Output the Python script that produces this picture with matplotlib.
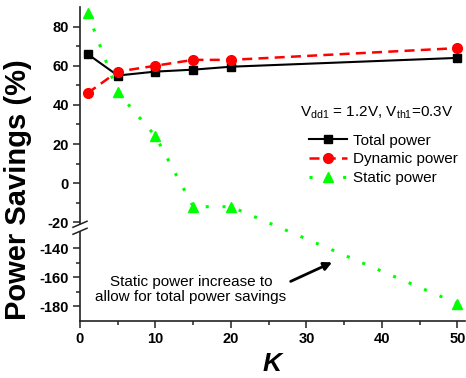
import numpy as np
import matplotlib
matplotlib.use("Agg")
from matplotlib import pyplot as plt
from matplotlib.lines import Line2D
from matplotlib.patches import Polygon

plt.rcParams['font.family'] = ['Liberation Sans', 'DejaVu Sans']
plt.rcParams['mathtext.fontset'] = 'custom'
plt.rcParams['mathtext.rm'] = 'Liberation Sans'
plt.rcParams['mathtext.it'] = 'Liberation Sans:italic'
plt.rcParams['mathtext.bf'] = 'Liberation Sans:bold'

# data
K = [1, 5, 10, 15, 20, 50]
total_power = [66, 55, 57, 58, 59.5, 64]
dynamic_power = [46, 57, 60, 63, 63, 69]
static_power = [87, 46.5, 24, -12, -12, -178]

y_ticks = [-180, -160, -140, -20, 0, 20, 40, 60, 80]
y_minor = [-170, -150, -10, 10, 30, 50, 70]

# broken y axis: upper part -22..90, lower part -190..-127
BOT, LO_HI, UP_LO, TOP = -190, -127, -22, 90
S_LO, S_UP, GAP = 1.45, 1.95, 3.0
L = (LO_HI - BOT) * S_LO


def fwd(y):
    y = np.asarray(y, dtype=float)
    lo = (y - BOT) * S_LO
    mid = L + (y - LO_HI) / (UP_LO - LO_HI) * GAP
    up = L + GAP + (y - UP_LO) * S_UP
    return np.where(y >= UP_LO, up, np.where(y <= LO_HI, lo, mid))


def inv(v):
    v = np.asarray(v, dtype=float)
    lo = v / S_LO + BOT
    mid = LO_HI + (v - L) / GAP * (UP_LO - LO_HI)
    up = (v - L - GAP) / S_UP + UP_LO
    return np.where(v >= L + GAP, up, np.where(v <= L, lo, mid))


fig = plt.figure(figsize=(4.66, 3.78), dpi=100)
ax = fig.add_axes([80/466, 57/378, 385/466, 314/378])
ax.set_yscale('function', functions=(fwd, inv))

ax.plot(K, total_power, '-s', color='black', lw=1.5, ms=6, label='Total power')
ax.plot(K, dynamic_power, '--o', color='#ff0000', lw=1.8, ms=7,
        dashes=(4, 2.5), label='Dynamic power')
ax.plot(K, static_power, '^', color='#00ff00', ls=(0, (1, 4.5)), lw=2.2,
        ms=7.5, label='Static power')

ax.set_xlim(0, 51)
ax.set_ylim(BOT, TOP)
ax.set_xticks([0, 10, 20, 30, 40, 50])
ax.set_xticks([5, 15, 25, 35, 45], minor=True)
ax.set_yticks(y_ticks)
ax.set_yticks(y_minor, minor=True)
ax.set_yticklabels([str(t) for t in y_ticks])

for s in ['top', 'right']:
    ax.spines[s].set_visible(False)
for s in ['left', 'bottom']:
    ax.spines[s].set_linewidth(1.2)
    ax.spines[s].set_color('#222222')
ax.tick_params(which='major', direction='out', length=5, width=1.1,
               labelsize=10.5, pad=3, color='#222222')
ax.tick_params(which='minor', direction='out', length=3, width=1.1, color='#222222')
for lab in ax.get_xticklabels() + ax.get_yticklabels():
    lab.set_fontweight('bold')

ax.set_ylabel('Power Savings (%)', fontsize=21, fontweight='bold')
ax.yaxis.set_label_coords(-0.125, 0.417)
ax.set_xlabel('K', fontsize=19, fontweight='bold', style='italic')
ax.xaxis.set_label_coords(0.5, -0.10)

ax.text(29.2, 33.8, r'V$_{\mathrm{dd1}}$ = 1.2V, V$_{\mathrm{th1}}$=0.3V',
        fontsize=11, va='baseline', ha='left')

ax.legend(loc='upper left', bbox_to_anchor=(309/466, 1 - 133.7/378),
          bbox_transform=fig.transFigure, frameon=False, fontsize=11,
          borderpad=0, borderaxespad=0, handlelength=2.5, handletextpad=0.35,
          labelspacing=0.3, numpoints=1)

ax.text(14.7, -168.3, 'Static power increase to\nallow for total power savings',
        fontsize=11, ha='center', va='center', multialignment='center',
        linespacing=1.15)
ax.annotate('', xy=(33.4, -149.7), xytext=(27.9, -162.8),
            arrowprops=dict(arrowstyle='-|>', lw=2, color='black',
                            mutation_scale=12, shrinkA=0, shrinkB=0))

# break marks on the y axis
fig.canvas.draw()
px, py = ax.transData.transform((0, (LO_HI + UP_LO) / 2))
W, H = fig.get_size_inches() * fig.dpi
fig.add_artist(Polygon([(x / W, y / H) for x, y in
                        [(px - 7, py + 3.5 - 3), (px + 7, py + 3.5 + 3),
                         (px + 7, py - 3.5 + 3), (px - 7, py - 3.5 - 3)]],
                       closed=True, facecolor='white', edgecolor='none',
                       transform=fig.transFigure, zorder=5))
for dy in (3.5, -3.5):
    fig.add_artist(Line2D([(px - 7) / W, (px + 7) / W],
                          [(py + dy - 3) / H, (py + dy + 3) / H],
                          color='#222222', lw=1.1, transform=fig.transFigure,
                          zorder=6))

fig.savefig('out.png', dpi=100)
